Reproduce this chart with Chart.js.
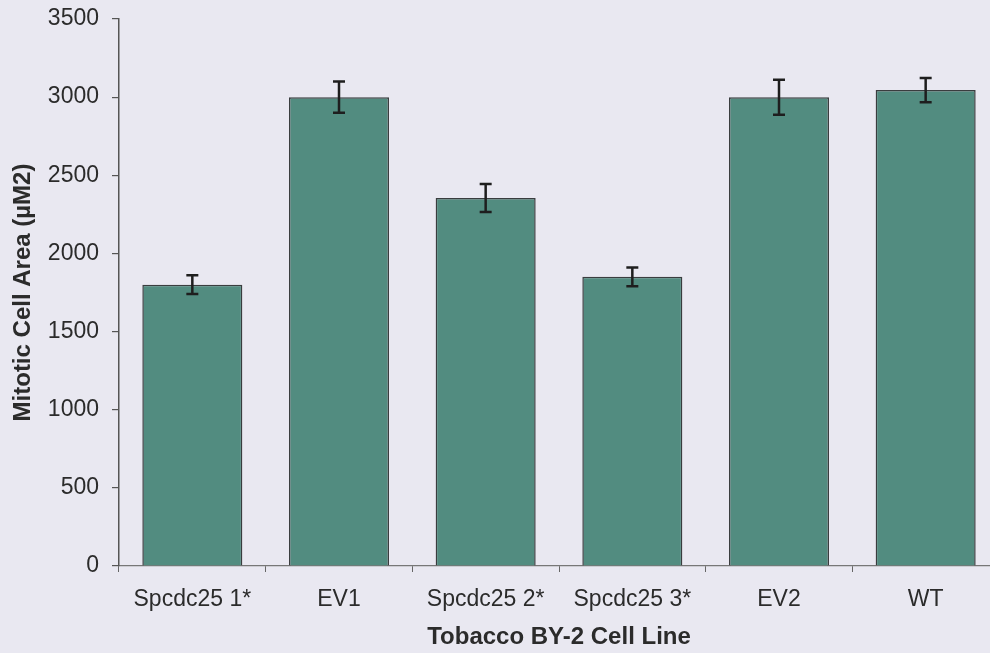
<!DOCTYPE html>
<html>
<head>
<meta charset="utf-8">
<script src="https://cdn.jsdelivr.net/npm/chart.js@4/dist/chart.umd.min.js"></script>
<style>
  html, body { margin: 0; padding: 0; background: #e9e8f1; overflow: hidden; }
  #wrap { width: 1000px; height: 653px; position: relative; }
</style>
</head>
<body>
<div id="wrap"><canvas id="c" width="1000" height="653"></canvas></div>
<script>
const categories = ["Spcdc25 1*", "EV1", "Spcdc25 2*", "Spcdc25 3*", "EV2", "WT"];
const areaValues = [1800, 3000, 2355, 1850, 3000, 3045];
const areaErrors = [60, 100, 90, 60, 112, 77];
const yTicks = [0, 500, 1000, 1500, 2000, 2500, 3000, 3500];

const textColor = '#2b2b2b';

const bgPlugin = {
  id: 'bg',
  beforeDraw(chart) {
    const ctx = chart.ctx;
    ctx.save();
    ctx.fillStyle = '#e9e8f1';
    ctx.fillRect(0, 0, chart.width, chart.height);
    ctx.restore();
  }
};

const errorBarPlugin = {
  id: 'errorBars',
  afterDatasetsDraw(chart) {
    const ctx = chart.ctx;
    const meta = chart.getDatasetMeta(0);
    const y = chart.scales.y;
    ctx.save();
    ctx.strokeStyle = '#1e1e1e';
    ctx.lineWidth = 2.5;
    meta.data.forEach((bar, i) => {
      const v = areaValues[i], e = areaErrors[i];
      const x = bar.x;
      const yTop = y.getPixelForValue(v + e);
      const yBot = y.getPixelForValue(v - e);
      const cap = 6;
      ctx.beginPath();
      ctx.moveTo(x, yTop); ctx.lineTo(x, yBot);
      ctx.moveTo(x - cap, yTop); ctx.lineTo(x + cap, yTop);
      ctx.moveTo(x - cap, yBot); ctx.lineTo(x + cap, yBot);
      ctx.stroke();
    });
    ctx.restore();
  }
};

new Chart(document.getElementById('c'), {
  type: 'bar',
  data: {
    labels: categories,
    datasets: [{
      data: areaValues,
      backgroundColor: '#528c80',
      borderColor: '#3a3d3f',
      borderWidth: 1.5,
      categoryPercentage: 1.0,
      barPercentage: 0.682
    }]
  },
  options: {
    responsive: false,
    animation: false,
    devicePixelRatio: 1,
    layout: { padding: { top: 19, right: 1, left: 0, bottom: 0 } },
    plugins: { legend: { display: false }, tooltip: { enabled: false } },
    scales: {
      x: {
        grid: { drawOnChartArea: false, tickLength: 6, color: '#666', lineWidth: 1 },
        border: { color: '#777', width: 1.2 },
        ticks: { color: textColor, font: { family: 'Liberation Sans, Arial, sans-serif', size: 23 }, padding: 14, maxRotation: 0 },
        title: { display: true, text: 'Tobacco BY-2 Cell Line', color: textColor,
                 font: { family: 'Liberation Sans, Arial, sans-serif', size: 24, weight: 'bold' },
                 padding: { top: 0, bottom: 1 } },
        afterFit(scale) { scale.height = 87; scale.paddingLeft = 0; scale.paddingRight = 0; }
      },
      y: {
        min: 0, max: 3500,
        afterBuildTicks(scale) { scale.ticks = yTicks.map(v => ({ value: v })); },
        grid: { drawOnChartArea: false, tickLength: 7, color: '#555', lineWidth: 1.2 },
        border: { color: '#555', width: 1.5 },
        ticks: { color: textColor, font: { family: 'Liberation Sans, Arial, sans-serif', size: 23 }, padding: 13,
                 callback: (v) => String(v) },
        title: { display: true, text: 'Mitotic Cell Area (\u00B5M2)', color: textColor,
                 font: { family: 'Liberation Sans, Arial, sans-serif', size: 24, weight: 'bold' },
                 padding: { top: 9, bottom: 0 } },
        afterFit(scale) { scale.width = 119; scale.paddingTop = 0; scale.paddingBottom = 0; }
      }
    }
  },
  plugins: [bgPlugin, errorBarPlugin]
});
</script>
</body>
</html>
